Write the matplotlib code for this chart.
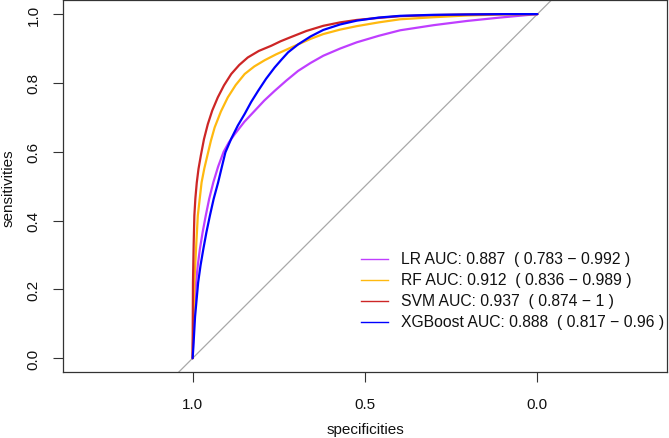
import matplotlib
matplotlib.use("Agg")
import matplotlib.pyplot as plt

plt.rcParams['font.family'] = ['Liberation Sans', 'DejaVu Sans']

# ---- data ----
lr_spec = [1.0, 0.999, 0.997, 0.994, 0.99, 0.985, 0.979, 0.971, 0.962, 0.952, 0.94, 0.926, 0.91, 0.895,
           0.878, 0.85, 0.82, 0.792, 0.762, 0.728, 0.694, 0.658, 0.621, 0.572, 0.524, 0.46, 0.398, 0.3,
           0.205, 0.108, 0.0]
lr_sens = [0.0, 0.04, 0.1, 0.16, 0.22, 0.27, 0.317, 0.366, 0.414, 0.463, 0.511, 0.557, 0.6, 0.627,
           0.651, 0.687, 0.719, 0.749, 0.777, 0.807, 0.835, 0.858, 0.879, 0.9, 0.918, 0.937, 0.953, 0.968,
           0.980, 0.990, 1.0]

rf_spec = [1.0, 0.999, 0.997, 0.995, 0.99, 0.985, 0.974, 0.966, 0.957, 0.947, 0.936, 0.918, 0.898,
           0.875, 0.849, 0.821, 0.791, 0.758, 0.723, 0.694, 0.658, 0.621, 0.572, 0.524, 0.46, 0.398,
           0.3, 0.205, 0.1, 0.0]
rf_sens = [0.0, 0.05, 0.14, 0.22, 0.32, 0.414, 0.511, 0.552, 0.59, 0.632, 0.671, 0.717, 0.758,
           0.794, 0.826, 0.848, 0.866, 0.883, 0.899, 0.912, 0.928, 0.942, 0.955, 0.965, 0.976, 0.985,
           0.991, 0.996, 0.999, 1.0]

svm_spec = [1.0, 1.0, 0.999, 0.997, 0.995, 0.992, 0.988, 0.983, 0.976, 0.967, 0.956, 0.943, 0.927,
            0.909, 0.888, 0.865, 0.84, 0.808, 0.772, 0.745, 0.718, 0.67, 0.621, 0.572, 0.524, 0.46,
            0.398, 0.3, 0.205, 0.1, 0.0]
svm_sens = [0.0, 0.03, 0.22, 0.33, 0.414, 0.465, 0.51, 0.55, 0.59, 0.637, 0.68, 0.72, 0.758,
            0.793, 0.826, 0.852, 0.874, 0.893, 0.908, 0.921, 0.932, 0.951, 0.966, 0.976, 0.983, 0.989,
            0.994, 0.997, 0.999, 1.0, 1.0]

xgb_spec = [1.0, 0.998, 0.993, 0.984, 0.977, 0.969, 0.96, 0.95, 0.939, 0.926, 0.915, 0.905, 0.888,
            0.869, 0.849, 0.83, 0.81, 0.787, 0.762, 0.742, 0.723, 0.694, 0.658, 0.621, 0.572, 0.524,
            0.46, 0.398, 0.3, 0.205, 0.1, 0.0]
xgb_sens = [0.0, 0.03, 0.12, 0.22, 0.27, 0.317, 0.366, 0.414, 0.463, 0.511, 0.557, 0.598, 0.638,
            0.676, 0.71, 0.745, 0.777, 0.812, 0.845, 0.868, 0.889, 0.912, 0.935, 0.954, 0.970, 0.981,
            0.990, 0.995, 0.998, 0.999, 1.0, 1.0]

labels = ["LR AUC: 0.887  ( 0.783 \u2212 0.992 )",
          "RF AUC: 0.912  ( 0.836 \u2212 0.989 )",
          "SVM AUC: 0.937  ( 0.874 \u2212 1 )",
          "XGBoost AUC: 0.888  ( 0.817 \u2212 0.96 )"]
colors = ["#BF3EFF", "#FFB90F", "#CD2626", "#0000FF"]

x_ticks = [1.0, 0.5, 0.0]
x_ticklabels = ["1.0", "0.5", "0.0"]
y_ticks = [0.0, 0.2, 0.4, 0.6, 0.8, 1.0]
y_ticklabels = ["0.0", "0.2", "0.4", "0.6", "0.8", "1.0"]

# ---- figure ----
W, H = 669, 439
FS = 11
fig = plt.figure(figsize=(W / 100, H / 100), dpi=100)
L, R, T, B = 63, 667, 1, 373
ax = fig.add_axes([L / W, (H - B) / H, (R - L) / W, (B - T) / H])
ax.set_xlim(1.376, -0.376)
ax.set_ylim(-0.040, 1.041)

ax.axline((1.0, 0.0), (0.0, 1.0), color="#A8A8A8", lw=0.9, zorder=1)

series = [(lr_spec, lr_sens), (rf_spec, rf_sens), (svm_spec, svm_sens), (xgb_spec, xgb_sens)]
for (sx, sy), c in zip(series, colors):
    ax.plot(sx, sy, color=c, lw=1.6, zorder=2, solid_joinstyle="round", solid_capstyle="round")

ax.set_xticks(x_ticks)
ax.set_xticklabels(x_ticklabels)
ax.set_yticks(y_ticks)
ax.set_yticklabels(y_ticklabels, rotation=90, va="center")
ax.tick_params(axis="both", direction="out", length=7, width=0.8, color="#333333",
               labelsize=FS, labelcolor="#111111")
ax.tick_params(axis="x", pad=11)
ax.tick_params(axis="y", pad=9)
for s in ax.spines.values():
    s.set_color("#333333")
    s.set_linewidth(0.9)

fig.text(365 / W, 1 - 430 / H, "specificities", ha="center", va="center", fontsize=FS, color="#111111")
fig.text(9 / W, 1 - 188 / H, "sensitivities", ha="center", va="center", rotation=90, fontsize=FS,
         color="#111111")

# legend (no box)
rows = [260, 281, 302, 323]
for yrow, lab, c in zip(rows, labels, colors):
    fig.add_artist(plt.Line2D([361 / W, 388 / W], [1 - yrow / H, 1 - yrow / H], color=c, lw=1.0,
                              transform=fig.transFigure))
    fig.text(401 / W, 1 - yrow / H, lab, ha="left", va="center", fontsize=11.3, color="#111111")

fig.savefig("out.png", dpi=100)
